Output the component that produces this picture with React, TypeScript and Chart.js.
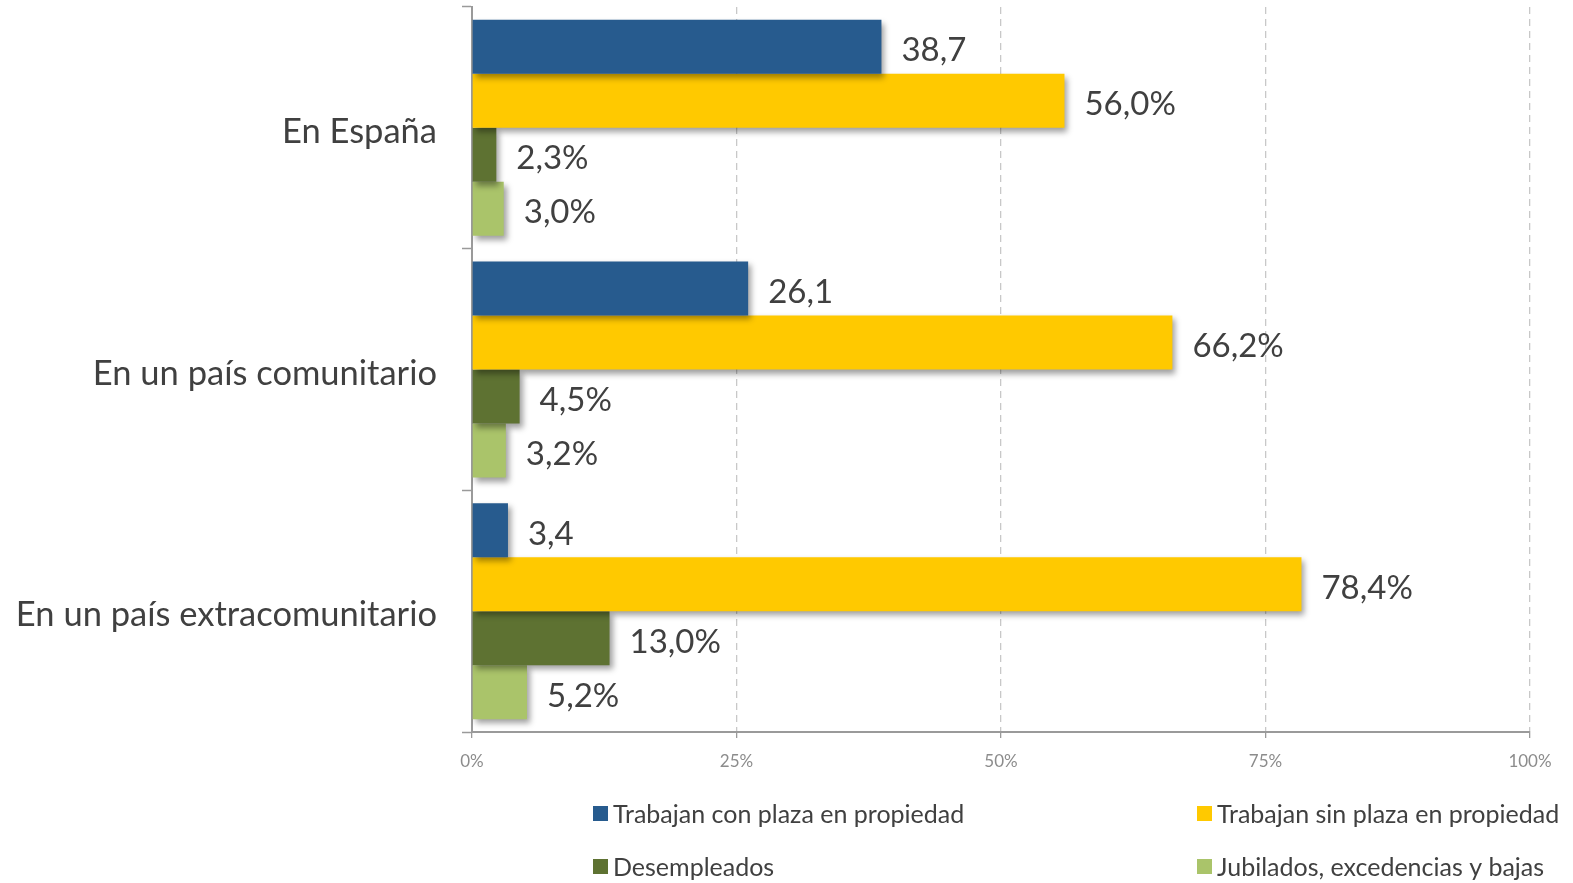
import React, { useEffect, useRef } from "react";
import { Chart, registerables } from "chart.js";

Chart.register(...registerables);

const categories = ["En España", "En un país comunitario", "En un país extracomunitario"];
const seriesNames = [
  "Trabajan con plaza en propiedad",
  "Trabajan sin plaza en propiedad",
  "Desempleados",
  "Jubilados, excedencias y bajas",
];
const conPlaza = [38.7, 26.1, 3.4];
const sinPlaza = [56.0, 66.2, 78.4];
const desempleados = [2.3, 4.5, 13.0];
const jubilados = [3.0, 3.2, 5.2];
const seriesColors = ["#275B8E", "#FFC900", "#5E7232", "#AAC46A"];
const xTicks = [0, 25, 50, 75, 100];

const FONT = "Lato, 'Open Sans', sans-serif";

const fmt = (v: number, pct: boolean) => v.toFixed(1).replace(".", ",") + (pct ? "%" : "");

const shadowPlugin = {
  id: "barShadow",
  beforeDatasetDraw(chart: any) {
    const ctx = chart.ctx;
    ctx.save();
    ctx.shadowColor = "rgba(0,0,0,0.38)";
    ctx.shadowBlur = 6;
    ctx.shadowOffsetX = 3;
    ctx.shadowOffsetY = 4;
  },
  afterDatasetDraw(chart: any) {
    chart.ctx.restore();
  },
};

const labelPlugin = {
  id: "barLabels",
  afterDatasetsDraw(chart: any) {
    const ctx = chart.ctx;
    ctx.save();
    ctx.font = `33px ${FONT}`;
    ctx.fillStyle = "#404040";
    ctx.textAlign = "left";
    ctx.textBaseline = "middle";
    chart.data.datasets.forEach((ds: any, di: number) => {
      const meta = chart.getDatasetMeta(di);
      meta.data.forEach((bar: any, i: number) => {
        ctx.fillText(fmt(ds.data[i], di !== 0), bar.x + 20, bar.y + 4);
      });
    });
    ctx.restore();
  },
};

const legendPlugin = {
  id: "customLegend",
  afterDraw(chart: any) {
    const ctx = chart.ctx;
    ctx.save();
    ctx.font = `25px ${FONT}`;
    ctx.textBaseline = "middle";
    ctx.textAlign = "left";
    const cols = [593, 1197];
    const rows = [813, 866];
    chart.data.datasets.forEach((ds: any, i: number) => {
      const x = cols[i % 2];
      const y = rows[Math.floor(i / 2)];
      ctx.fillStyle = ds.backgroundColor;
      ctx.fillRect(x, y - 7, 15, 15);
      ctx.fillStyle = "#404040";
      ctx.fillText(ds.label, x + 20, y + 2);
    });
    ctx.restore();
  },
};

export default function App() {
  const ref = useRef<HTMLCanvasElement>(null);
  useEffect(() => {
    if (!ref.current) return;
    const values = [conPlaza, sinPlaza, desempleados, jubilados];
    const chart = new Chart(ref.current, {
      type: "bar",
      data: {
        labels: categories,
        datasets: values.map((d, i) => ({
          label: seriesNames[i],
          data: d,
          backgroundColor: seriesColors[i],
          borderWidth: 0,
          categoryPercentage: 0.894,
          barPercentage: 1.0,
        })),
      },
      options: {
        indexAxis: "y",
        responsive: false,
        animation: false,
        layout: { padding: { left: 0, right: 43, top: 7, bottom: 0 } },
        plugins: { legend: { display: false }, tooltip: { enabled: false } },
        scales: {
          x: {
            min: 0,
            max: 100,
            afterBuildTicks: (scale: any) => {
              scale.ticks = xTicks.map((v) => ({ value: v }));
            },
            afterFit: (scale: any) => {
              scale.height = 883 - 732;
              scale.paddingLeft = 0;
              scale.paddingRight = 0;
            },
            ticks: {
              callback: (v: any) => v + "%",
              color: "#8C8C8C",
              font: { family: FONT, size: 17 },
              padding: 13,
            },
            grid: {
              color: "#C8C8C8",
              lineWidth: 1.3,
              tickColor: "#9A9A9A",
              tickLength: 6,
              tickBorderDash: [],
            },
            border: { color: "#9A9A9A", width: 2, dash: [7, 5] },
          },
          y: {
            afterFit: (scale: any) => {
              scale.width = 472;
              scale.paddingTop = 0;
              scale.paddingBottom = 0;
            },
            ticks: {
              color: "#404040",
              font: { family: FONT, size: 34.5 },
              padding: 25,
              labelOffset: 4,
            },
            grid: {
              display: true,
              drawOnChartArea: false,
              drawTicks: true,
              tickLength: 10,
              tickColor: "#9A9A9A",
              tickWidth: 1.5,
            },
            border: { color: "#9A9A9A", width: 2 },
          },
        },
      },
      plugins: [shadowPlugin, labelPlugin, legendPlugin],
    });
    return () => chart.destroy();
  }, []);
  return (
    <div style={{ position: "absolute", left: 0, top: 0, width: 1573, height: 883, background: "#fff" }}>
      <canvas ref={ref} width={1573} height={883} style={{ display: "block" }} />
    </div>
  );
}
